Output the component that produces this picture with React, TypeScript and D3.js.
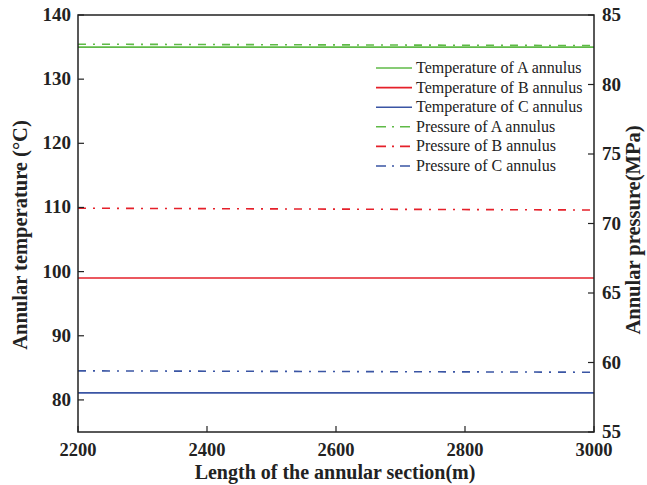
import React from "react";
import * as d3 from "d3";

const xPositions = [2200, 3000];
const tempA = [135.0, 135.0];
const tempB = [99.0, 99.0];
const tempC = [81.1, 81.1];
const presA = [82.9, 82.8];
const presB = [71.1, 70.97];
const presC = [59.4, 59.3];

const xTicks = [2200, 2400, 2600, 2800, 3000];
const leftTicks = [80, 90, 100, 110, 120, 130, 140];
const rightTicks = [55, 60, 65, 70, 75, 80, 85];

const legendLabels = [
  "Temperature of A annulus",
  "Temperature of B annulus",
  "Temperature of C annulus",
  "Pressure of A annulus",
  "Pressure of B annulus",
  "Pressure of C annulus",
];

const GREEN = "#5fba47";
const RED = "#e5202a";
const BLUE = "#3a55a4";
const DASH = "8,7,2,7";

export default function App() {
  const W = 647, H = 485;
  const L = 78, R = 594, T = 15, B = 432;
  const x = d3.scaleLinear().domain([2200, 3000]).range([L, R]);
  const yL = d3.scaleLinear().domain([75, 140]).range([B, T]);
  const yR = d3.scaleLinear().domain([55, 85]).range([B, T]);

  const mk = (vals: number[], s: d3.ScaleLinear<number, number>) =>
    d3.line<number>().x((_, i) => x(xPositions[i])).y((v) => s(v))(vals) || "";

  const series = [
    { d: mk(tempA, yL), c: GREEN, dash: undefined },
    { d: mk(tempB, yL), c: RED, dash: undefined },
    { d: mk(tempC, yL), c: BLUE, dash: undefined },
    { d: mk(presA, yR), c: GREEN, dash: DASH },
    { d: mk(presB, yR), c: RED, dash: DASH },
    { d: mk(presC, yR), c: BLUE, dash: DASH },
  ];

  const font = "'Liberation Serif', 'Times New Roman', serif";
  const axisColor = "#222";
  const legX = 376, legY0 = 68, legDy = 19.6;

  return (
    <svg width={W} height={H} style={{ position: "absolute", left: 0, top: 0, background: "#fff" }} fontFamily={font}>
      {series.map((s, i) => (
        <path key={i} d={s.d} fill="none" stroke={s.c} strokeWidth={1.6} strokeDasharray={s.dash} />
      ))}
      <rect x={L} y={T} width={R - L} height={B - T} fill="none" stroke={axisColor} strokeWidth={1.5} />
      {xTicks.map((t) => (
        <g key={"x" + t}>
          <line x1={x(t)} x2={x(t)} y1={B} y2={B - 6} stroke={axisColor} strokeWidth={1.2} />
          <text x={x(t)} y={B + 24} textAnchor="middle" fontWeight="bold" fontSize={18.5} fill="#222">{t}</text>
        </g>
      ))}
      {leftTicks.map((t) => (
        <g key={"l" + t}>
          <line x1={L} x2={L + 6} y1={yL(t)} y2={yL(t)} stroke={axisColor} strokeWidth={1.2} />
          <text x={L - 7} y={yL(t) + 6} textAnchor="end" fontWeight="bold" fontSize={19} fill="#222">{t}</text>
        </g>
      ))}
      {rightTicks.map((t) => (
        <g key={"r" + t}>
          <line x1={R} x2={R - 6} y1={yR(t)} y2={yR(t)} stroke={axisColor} strokeWidth={1.2} />
          <text x={R + 8} y={yR(t) + 6} textAnchor="start" fontWeight="bold" fontSize={19} fill="#222">{t}</text>
        </g>
      ))}
      <text x={335} y={479} textAnchor="middle" fontWeight="bold" fontSize={20} fill="#222">
        Length of the annular section(m)
      </text>
      <text transform={`translate(27,235) rotate(-90)`} textAnchor="middle" fontWeight="bold" fontSize={20.5} fill="#222">
        Annular temperature (°C)
      </text>
      <text transform={`translate(640,230) rotate(-90)`} textAnchor="middle" fontWeight="bold" fontSize={20.5} fill="#222">
        Annular pressure(MPa)
      </text>
      {legendLabels.map((lab, i) => (
        <g key={lab}>
          <line x1={legX} x2={legX + 36} y1={legY0 + i * legDy} y2={legY0 + i * legDy}
            stroke={series[i].c} strokeWidth={1.6} strokeDasharray={series[i].dash ? "10,6,2,6" : undefined} />
          <text x={legX + 40} y={legY0 + i * legDy + 5} fontSize={16} fill="#222">{lab}</text>
        </g>
      ))}
    </svg>
  );
}
